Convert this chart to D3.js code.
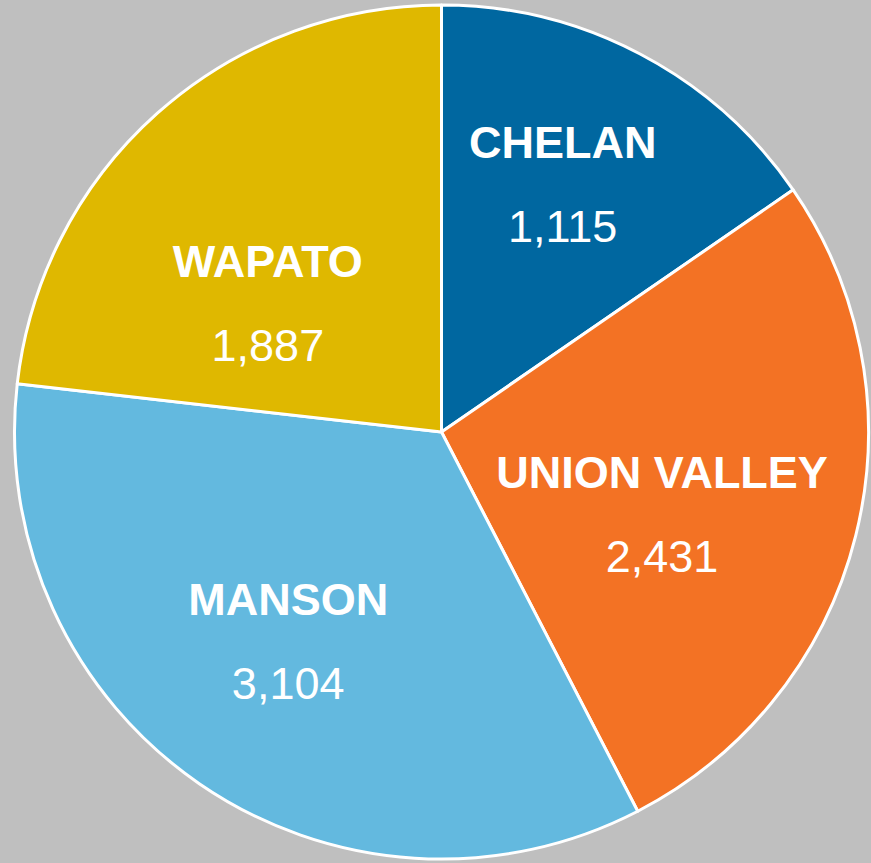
<!DOCTYPE html>
<html>
<head>
<meta charset="utf-8">
<script src="https://cdn.jsdelivr.net/npm/d3@7"></script>
<style>
  html, body { margin: 0; padding: 0; background: #bfbfbf; }
  #chart { width: 871px; height: 863px; }
</style>
</head>
<body>
<div id="chart"></div>
<script>
// Data - clockwise from 12 o'clock
const names = ['CHELAN', 'UNION VALLEY', 'MANSON', 'WAPATO'];
const counts = [1115, 2431, 3104, 1887];
// slice sizes as drawn in the original (percent of circle), they don't follow the counts exactly
const sliceShares = [15.4, 27.0, 34.4, 23.2];
const colors = ['#0067a0', '#f37224', '#63b9df', '#dfb800'];

// small nudges so labels sit where the original put them (px, from arc centroid)
const labelNudge = [[2, -21], [-28, 20], [-8, -2], [-3, 62]];

function renderPie(containerId) {
    const width = 871;
    const height = 863;
    const cx = 441.5;
    const cy = 432;
    const radius = 427;

    const svg = d3.select(`#${containerId}`)
        .append('svg')
        .attr('width', width)
        .attr('height', height);

    svg.append('rect')
        .attr('width', width)
        .attr('height', height)
        .attr('fill', '#bfbfbf');

    const g = svg.append('g')
        .attr('transform', `translate(${cx},${cy})`);

    const pieData = names.map((n, i) => ({
        name: n, count: counts[i], share: sliceShares[i], color: colors[i], i: i
    }));

    const pie = d3.pie()
        .value(d => d.share)
        .sort(null);

    const arc = d3.arc()
        .innerRadius(0)
        .outerRadius(radius);

    const labelArc = d3.arc()
        .innerRadius(radius * 0.6)
        .outerRadius(radius * 0.6);

    const slices = g.selectAll('.slice')
        .data(pie(pieData))
        .enter()
        .append('g')
        .attr('class', 'slice');

    slices.append('path')
        .attr('d', arc)
        .attr('fill', d => d.data.color)
        .attr('stroke', 'white')
        .attr('stroke-width', 3)
        .attr('stroke-linejoin', 'round');

    const fmt = d3.format(',');

    const labels = g.selectAll('.label')
        .data(pie(pieData))
        .enter()
        .append('g')
        .attr('class', 'label')
        .attr('transform', d => {
            const c = labelArc.centroid(d);
            const n = labelNudge[d.data.i];
            return `translate(${c[0] + n[0]},${c[1] + n[1]})`;
        });

    labels.append('text')
        .attr('text-anchor', 'middle')
        .attr('y', -26)
        .style('font-family', '"Liberation Sans", Arial, sans-serif')
        .style('font-size', '45px')
        .style('font-weight', 'bold')
        .style('fill', 'white')
        .text(d => d.data.name);

    labels.append('text')
        .attr('text-anchor', 'middle')
        .attr('y', 58)
        .style('font-family', '"Liberation Sans", Arial, sans-serif')
        .style('font-size', '45px')
        .style('fill', 'white')
        .text(d => fmt(d.data.count));
}

renderPie('chart');
</script>
</body>
</html>
